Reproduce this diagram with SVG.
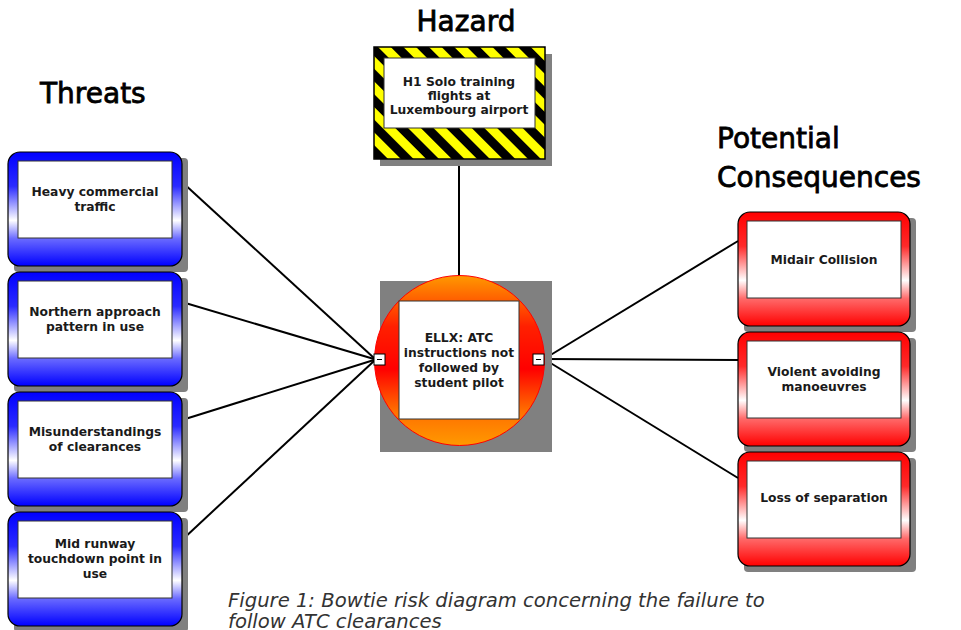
<svg xmlns="http://www.w3.org/2000/svg" width="961" height="630" viewBox="0 0 961 630">
<defs>
<linearGradient id="gBlue" x1="0" y1="0" x2="0" y2="1">
<stop offset="0" stop-color="#0000ff"/>
<stop offset="0.3" stop-color="#2a2aff"/>
<stop offset="0.6" stop-color="#ffffff"/>
<stop offset="0.76" stop-color="#6a6aff"/>
<stop offset="1" stop-color="#0000ff"/>
</linearGradient>
<linearGradient id="gRed" x1="0" y1="0" x2="0" y2="1">
<stop offset="0" stop-color="#ff0000"/>
<stop offset="0.3" stop-color="#ff2a2a"/>
<stop offset="0.6" stop-color="#ffffff"/>
<stop offset="0.76" stop-color="#ff6a6a"/>
<stop offset="1" stop-color="#ff0000"/>
</linearGradient>
<linearGradient id="gOrange" x1="0" y1="0" x2="0" y2="1">
<stop offset="0" stop-color="#ff9900"/>
<stop offset="0.3" stop-color="#ff2000"/>
<stop offset="0.55" stop-color="#ff0000"/>
<stop offset="0.8" stop-color="#ff7000"/>
<stop offset="1" stop-color="#ff9900"/>
</linearGradient>
<pattern id="stripes" width="18" height="18" patternUnits="userSpaceOnUse" patternTransform="rotate(-45)">
<rect width="18" height="18" fill="#000000"/>
<rect width="9" height="18" fill="#ffff00"/>
</pattern>
</defs>
<style>
.shadow{fill:#808080}
.inner{fill:#ffffff;stroke:#333333;stroke-width:1}
.lbl{font-family:"DejaVu Sans",Verdana,sans-serif;font-weight:bold;font-size:12.3px;fill:#1a1a1a;text-anchor:middle}
.title{font-family:"DejaVu Sans",Verdana,sans-serif;font-size:28px;fill:#000000;stroke:#000000;stroke-width:0.8}
.cap{font-family:"DejaVu Sans",Verdana,sans-serif;font-style:italic;font-size:19.6px;fill:#333333}
.conn{stroke:#000000;stroke-width:2;fill:none}
.box{stroke:#000000;stroke-width:1.2}
</style>

<text class="title" x="466" y="31" text-anchor="middle">Hazard</text>
<text class="title" x="40" y="103">Threats</text>
<text class="title" x="717" y="148">Potential</text>
<text class="title" x="717" y="187">Consequences</text>

<g id="connectors">
<line class="conn" x1="459" y1="161" x2="459" y2="276"/>
<line class="conn" x1="182" y1="182" x2="374" y2="358"/>
<line class="conn" x1="182" y1="302" x2="374" y2="359"/>
<line class="conn" x1="182" y1="420" x2="374" y2="360"/>
<line class="conn" x1="182" y1="540" x2="374" y2="361"/>
<line class="conn" x1="544" y1="359" x2="738" y2="241"/>
<line class="conn" x1="544" y1="359" x2="738" y2="360"/>
<line class="conn" x1="544" y1="359" x2="738" y2="478"/>
</g>

<g id="hazard">
<rect class="shadow" x="380" y="54" width="172" height="112"/>
<rect x="374" y="47" width="171" height="112" fill="url(#stripes)" stroke="#000" stroke-width="1.5"/>
<rect class="inner" x="384" y="58" width="151" height="70"/>
<text class="lbl" x="459" y="86">H1 Solo training</text>
<text class="lbl" x="459" y="100">flights at</text>
<text class="lbl" x="459" y="114">Luxembourg airport</text>
</g>

<g id="topevent">
<rect class="shadow" x="380" y="281" width="172" height="171"/>
<circle cx="459.5" cy="360.5" r="85" fill="url(#gOrange)" stroke="#ff0000" stroke-width="1"/>
<rect class="inner" x="399" y="301" width="120" height="118"/>
<text class="lbl" x="459" y="342">ELLX: ATC</text>
<text class="lbl" x="459" y="357">instructions not</text>
<text class="lbl" x="459" y="372">followed by</text>
<text class="lbl" x="459" y="387">student pilot</text>
<rect x="374" y="354" width="11" height="11" fill="#fff" stroke="#000" stroke-width="1"/>
<line x1="377" y1="359.5" x2="382" y2="359.5" stroke="#000" stroke-width="1"/>
<rect x="533" y="354" width="11" height="11" fill="#fff" stroke="#000" stroke-width="1"/>
<line x1="536" y1="359.5" x2="541" y2="359.5" stroke="#000" stroke-width="1"/>
</g>

<g id="threat1">
<rect class="shadow" x="14" y="158" width="174" height="114" rx="4"/>
<rect class="box" x="8" y="152" width="174" height="114" rx="12" fill="url(#gBlue)"/>
<rect class="inner" x="18" y="161" width="154" height="77"/>
<text class="lbl" x="95" y="196">Heavy commercial</text>
<text class="lbl" x="95" y="211">traffic</text>
</g>
<g id="threat2">
<rect class="shadow" x="14" y="278" width="174" height="114" rx="4"/>
<rect class="box" x="8" y="272" width="174" height="114" rx="12" fill="url(#gBlue)"/>
<rect class="inner" x="18" y="281" width="154" height="77"/>
<text class="lbl" x="95" y="316">Northern approach</text>
<text class="lbl" x="95" y="331">pattern in use</text>
</g>
<g id="threat3">
<rect class="shadow" x="14" y="398" width="174" height="114" rx="4"/>
<rect class="box" x="8" y="392" width="174" height="114" rx="12" fill="url(#gBlue)"/>
<rect class="inner" x="18" y="401" width="154" height="77"/>
<text class="lbl" x="95" y="436">Misunderstandings</text>
<text class="lbl" x="95" y="451">of clearances</text>
</g>
<g id="threat4">
<rect class="shadow" x="14" y="518" width="174" height="114" rx="4"/>
<rect class="box" x="8" y="512" width="174" height="114" rx="12" fill="url(#gBlue)"/>
<rect class="inner" x="18" y="521" width="154" height="77"/>
<text class="lbl" x="95" y="548">Mid runway</text>
<text class="lbl" x="95" y="563">touchdown point in</text>
<text class="lbl" x="95" y="578">use</text>
</g>

<g id="consequence1">
<rect class="shadow" x="744" y="218" width="172" height="114" rx="4"/>
<rect class="box" x="738" y="212" width="172" height="114" rx="12" fill="url(#gRed)"/>
<rect class="inner" x="747" y="221" width="154" height="77"/>
<text class="lbl" x="824" y="264">Midair Collision</text>
</g>
<g id="consequence2">
<rect class="shadow" x="744" y="338" width="172" height="114" rx="4"/>
<rect class="box" x="738" y="332" width="172" height="114" rx="12" fill="url(#gRed)"/>
<rect class="inner" x="747" y="341" width="154" height="77"/>
<text class="lbl" x="824" y="376">Violent avoiding</text>
<text class="lbl" x="824" y="391">manoeuvres</text>
</g>
<g id="consequence3">
<rect class="shadow" x="744" y="458" width="172" height="114" rx="4"/>
<rect class="box" x="738" y="452" width="172" height="114" rx="12" fill="url(#gRed)"/>
<rect class="inner" x="747" y="461" width="154" height="77"/>
<text class="lbl" x="824" y="502">Loss of separation</text>
</g>

<text class="cap" x="228" y="607">Figure 1: Bowtie risk diagram concerning the failure to</text>
<text class="cap" x="228" y="628">follow ATC clearances</text>
</svg>
